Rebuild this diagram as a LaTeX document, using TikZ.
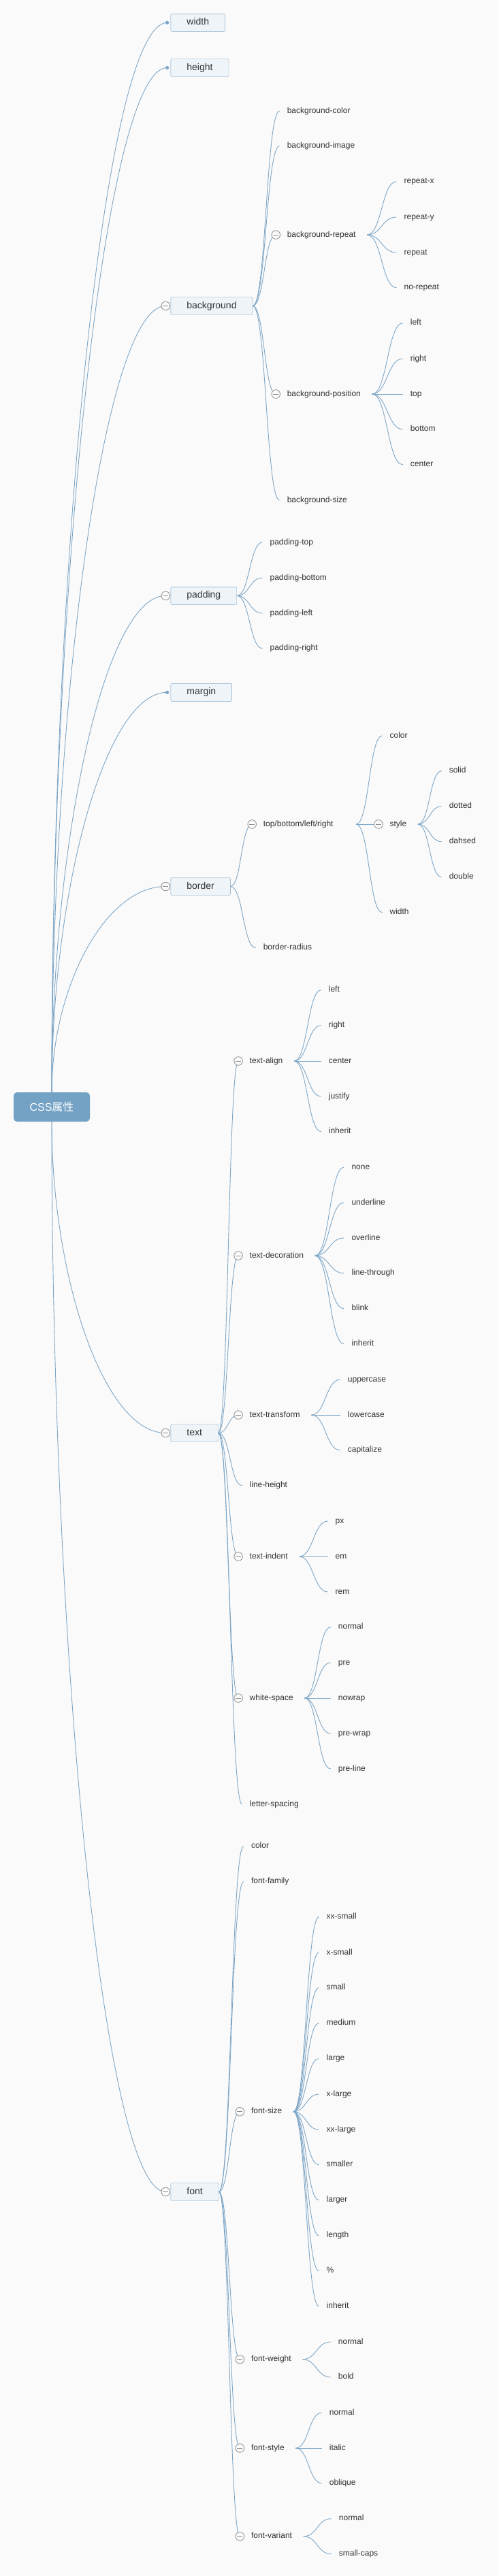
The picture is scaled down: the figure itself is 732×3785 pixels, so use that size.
\documentclass[tikz,border=0pt]{standalone}
\usepackage{fontspec}
\setmainfont{Liberation Sans}
\newfontfamily\cjk{Noto Sans CJK SC}
\usepackage{tikz}
\usetikzlibrary{calc}
\definecolor{bggray}{HTML}{FAFAFA}
\definecolor{linkblue}{HTML}{7EA6C6}
\definecolor{boxfill}{HTML}{EEF4F8}
\definecolor{boxline}{HTML}{7BA4C6}
\definecolor{rootfill}{HTML}{73A2C4}
\definecolor{foldgray}{HTML}{8E8E8E}
\definecolor{ink}{HTML}{333333}
\tikzstyle{root} = [rectangle, rounded corners=5pt, fill=rootfill, text=white,
    minimum width=112pt, minimum height=43pt, font=\fontsize{16}{18}\selectfont]
\tikzstyle{topic} = [rectangle, draw=boxline, fill=boxfill, rounded corners=2pt, anchor=west,
    minimum height=26pt, inner xsep=23.5pt, inner ysep=0pt, text height=10pt, text depth=3pt,
    text=ink, font=\fontsize{14}{16}\selectfont]
\tikzstyle{leaf} = [anchor=west, inner xsep=11pt, inner ysep=1pt, text height=8.5pt,
    text depth=2.5pt, text=ink, font=\fontsize{12}{14}\selectfont]
\tikzstyle{sub} = [leaf, inner xsep=16.4pt]
\tikzstyle{trunk} = [draw=linkblue, line width=0.9pt,
    to path={let \p1=(\tikztostart), \p2=(\tikztotarget) in
      .. controls (\x1,{(\y1+\y2)/2}) and ({0.54*\x1+0.46*\x2},\y2) .. (\tikztotarget)}]
\tikzstyle{branch} = [draw=linkblue, line width=0.9pt,
    to path={let \p1=(\tikztostart), \p2=(\tikztotarget) in
      .. controls ({(\x1+\x2)/2},\y1) and ({(\x1+\x2)/2},\y2) .. (\tikztotarget)}]
\tikzstyle{fold} = [draw=foldgray, fill=bggray, line width=0.8pt]

\begin{document}
\begin{tikzpicture}[x=1pt, y=-1pt]
		\fill[bggray] (0,0) rectangle (732,3785);

		\node[root] (css) at (76,1626.5) {CSS{\cjk 属性}};

		\node[topic] (width) at (250.7,33.3) {width};
		\node[topic] (height) at (250.7,99.5) {height};
		\node[topic] (background) at (250.7,449.5) {background};
		\node[topic] (padding) at (250.7,875.3) {padding};
		\node[topic] (margin) at (250.7,1017.3) {margin};
		\node[topic] (border) at (250.7,1302.5) {border};
		\node[topic] (txt) at (250.7,2105.5) {text};
		\node[topic] (font) at (250.7,3220.5) {font};

		% background
		\node[leaf] (bgcolor) at (410.6,163) {background-color};
		\node[leaf] (bgimage) at (410.6,214.7) {background-image};
		\node[sub] (bgrepeat) at (405.2,345) {background-repeat};
		\node[sub] (bgposition) at (405.2,579) {background-position};
		\node[leaf] (bgsize) at (410.6,735) {background-size};
		\node[leaf] (repeatx) at (582.4,266.7) {repeat-x};
		\node[leaf] (repeaty) at (582.4,319) {repeat-y};
		\node[leaf] (repeat) at (582.4,371) {repeat};
		\node[leaf] (norepeat) at (582.4,422.7) {no-repeat};
		\node[leaf] (posleft) at (591.7,474.7) {left};
		\node[leaf] (posright) at (591.7,527) {right};
		\node[leaf] (postop) at (591.7,579) {top};
		\node[leaf] (posbottom) at (591.7,630.7) {bottom};
		\node[leaf] (poscenter) at (591.7,682.7) {center};

		% padding
		\node[leaf] (padtop) at (385.4,797) {padding-top};
		\node[leaf] (padbottom) at (385.4,849) {padding-bottom};
		\node[leaf] (padleft) at (385.4,901) {padding-left};
		\node[leaf] (padright) at (385.4,952.7) {padding-right};

		% border
		\node[sub] (sides) at (370.2,1211) {top/bottom/left/right};
		\node[leaf] (radius) at (375.6,1392.7) {border-radius};
		\node[leaf] (bcolor) at (561.4,1081) {color};
		\node[sub] (bstyle) at (556,1211) {style};
		\node[leaf] (bwidth) at (561.4,1340.7) {width};
		\node[leaf] (solid) at (648.6,1132.7) {solid};
		\node[leaf] (dotted) at (648.6,1184.7) {dotted};
		\node[leaf] (dahsed) at (648.6,1236.7) {dahsed};
		\node[leaf] (double) at (648.6,1288.7) {double};

		% text
		\node[sub] (talign) at (350.1,1559) {text-align};
		\node[sub] (tdeco) at (350.1,1845) {text-decoration};
		\node[sub] (ttrans) at (350.1,2079) {text-transform};
		\node[leaf] (lheight) at (355.5,2182.7) {line-height};
		\node[sub] (tindent) at (350.1,2287) {text-indent};
		\node[sub] (wspace) at (350.1,2495) {white-space};
		\node[leaf] (lspacing) at (355.5,2651) {letter-spacing};
		\node[leaf] (alleft) at (471.7,1454.7) {left};
		\node[leaf] (alright) at (471.7,1506.7) {right};
		\node[leaf] (alcenter) at (471.7,1559) {center};
		\node[leaf] (aljustify) at (471.7,1611) {justify};
		\node[leaf] (alinherit) at (471.7,1662.7) {inherit};
		\node[leaf] (denone) at (505.3,1715) {none};
		\node[leaf] (deunder) at (505.3,1767) {underline};
		\node[leaf] (deover) at (505.3,1819) {overline};
		\node[leaf] (dethrough) at (505.3,1870.7) {line-through};
		\node[leaf] (deblink) at (505.3,1922.7) {blink};
		\node[leaf] (deinherit) at (505.3,1974.7) {inherit};
		\node[leaf] (trupper) at (499.7,2027) {uppercase};
		\node[leaf] (trlower) at (499.7,2079) {lowercase};
		\node[leaf] (trcap) at (499.7,2130.7) {capitalize};
		\node[leaf] (inpx) at (481.5,2235) {px};
		\node[leaf] (inem) at (481.5,2287) {em};
		\node[leaf] (inrem) at (481.5,2339) {rem};
		\node[leaf] (wsnormal) at (485.7,2390.7) {normal};
		\node[leaf] (wspre) at (485.7,2443) {pre};
		\node[leaf] (wsnowrap) at (485.7,2495) {nowrap};
		\node[leaf] (wsprewrap) at (485.7,2547) {pre-wrap};
		\node[leaf] (wspreline) at (485.7,2599) {pre-line};

		% font
		\node[leaf] (fcolor) at (357.8,2712.7) {color};
		\node[leaf] (ffamily) at (357.8,2764.7) {font-family};
		\node[sub] (fsize) at (352.4,3102.7) {font-size};
		\node[sub] (fweight) at (352.4,3466.7) {font-weight};
		\node[sub] (fstyle) at (352.4,3597) {font-style};
		\node[sub] (fvariant) at (352.4,3726.7) {font-variant};
		\node[leaf] (szxxs) at (468.5,2816.7) {xx-small};
		\node[leaf] (szxs) at (468.5,2869) {x-small};
		\node[leaf] (szs) at (468.5,2920.7) {small};
		\node[leaf] (szm) at (468.5,2972.7) {medium};
		\node[leaf] (szl) at (468.5,3024.7) {large};
		\node[leaf] (szxl) at (468.5,3077) {x-large};
		\node[leaf] (szxxl) at (468.5,3129) {xx-large};
		\node[leaf] (szsmaller) at (468.5,3180.7) {smaller};
		\node[leaf] (szlarger) at (468.5,3232.7) {larger};
		\node[leaf] (szlength) at (468.5,3284.7) {length};
		\node[leaf] (szpct) at (468.5,3336.7) {\%};
		\node[leaf] (szinherit) at (468.5,3388.7) {inherit};
		\node[leaf] (wtnormal) at (485.7,3441) {normal};
		\node[leaf] (wtbold) at (485.7,3492.7) {bold};
		\node[leaf] (stnormal) at (472.7,3545) {normal};
		\node[leaf] (stitalic) at (472.7,3597) {italic};
		\node[leaf] (stoblique) at (472.7,3648.7) {oblique};
		\node[leaf] (vanormal) at (486.7,3700.7) {normal};
		\node[leaf] (vacaps) at (486.7,3752.7) {small-caps};

		% root links
		\draw[trunk] (css.north) to ([xshift=-5.1pt]width.west);
		\draw[trunk] (css.north) to ([xshift=-5.1pt]height.west);
		\draw[trunk] (css.north) to ([xshift=-7.4pt]background.west);
		\draw[trunk] (css.north) to ([xshift=-7.4pt]padding.west);
		\draw[trunk] (css.north) to ([xshift=-5.1pt]margin.west);
		\draw[trunk] (css.north) to ([xshift=-7.4pt]border.west);
		\draw[trunk] (css.south) to ([xshift=-7.4pt]txt.west);
		\draw[trunk] (css.south) to ([xshift=-7.4pt]font.west);

		% branch links
		\draw[branch] (background.east) to (bgcolor.west);
		\draw[branch] (background.east) to (bgimage.west);
		\draw[branch] (background.east) to (bgrepeat.west);
		\draw[branch] (background.east) to (bgposition.west);
		\draw[branch] (background.east) to (bgsize.west);
		\draw[branch] (bgrepeat.east) to (repeatx.west);
		\draw[branch] (bgrepeat.east) to (repeaty.west);
		\draw[branch] (bgrepeat.east) to (repeat.west);
		\draw[branch] (bgrepeat.east) to (norepeat.west);
		\draw[branch] (bgposition.east) to (posleft.west);
		\draw[branch] (bgposition.east) to (posright.west);
		\draw[branch] (bgposition.east) to (postop.west);
		\draw[branch] (bgposition.east) to (posbottom.west);
		\draw[branch] (bgposition.east) to (poscenter.west);

		\draw[branch] (padding.east) to (padtop.west);
		\draw[branch] (padding.east) to (padbottom.west);
		\draw[branch] (padding.east) to (padleft.west);
		\draw[branch] (padding.east) to (padright.west);

		\draw[branch] (border.east) to (sides.west);
		\draw[branch] (border.east) to (radius.west);
		\draw[branch] ([xshift=17pt]sides.east) to (bcolor.west);
		\draw[branch] ([xshift=17pt]sides.east) to (bstyle.west);
		\draw[branch] ([xshift=17pt]sides.east) to (bwidth.west);
		\draw[branch] (bstyle.east) to (solid.west);
		\draw[branch] (bstyle.east) to (dotted.west);
		\draw[branch] (bstyle.east) to (dahsed.west);
		\draw[branch] (bstyle.east) to (double.west);

		\draw[branch] (txt.east) to (talign.west);
		\draw[branch] (txt.east) to (tdeco.west);
		\draw[branch] (txt.east) to (ttrans.west);
		\draw[branch] (txt.east) to (lheight.west);
		\draw[branch] (txt.east) to (tindent.west);
		\draw[branch] (txt.east) to (wspace.west);
		\draw[branch] (txt.east) to (lspacing.west);
		\draw[branch] (talign.east) to (alleft.west);
		\draw[branch] (talign.east) to (alright.west);
		\draw[branch] (talign.east) to (alcenter.west);
		\draw[branch] (talign.east) to (aljustify.west);
		\draw[branch] (talign.east) to (alinherit.west);
		\draw[branch] (tdeco.east) to (denone.west);
		\draw[branch] (tdeco.east) to (deunder.west);
		\draw[branch] (tdeco.east) to (deover.west);
		\draw[branch] (tdeco.east) to (dethrough.west);
		\draw[branch] (tdeco.east) to (deblink.west);
		\draw[branch] (tdeco.east) to (deinherit.west);
		\draw[branch] (ttrans.east) to (trupper.west);
		\draw[branch] (ttrans.east) to (trlower.west);
		\draw[branch] (ttrans.east) to (trcap.west);
		\draw[branch] (tindent.east) to (inpx.west);
		\draw[branch] (tindent.east) to (inem.west);
		\draw[branch] (tindent.east) to (inrem.west);
		\draw[branch] (wspace.east) to (wsnormal.west);
		\draw[branch] (wspace.east) to (wspre.west);
		\draw[branch] (wspace.east) to (wsnowrap.west);
		\draw[branch] (wspace.east) to (wsprewrap.west);
		\draw[branch] (wspace.east) to (wspreline.west);

		\draw[branch] (font.east) to (fcolor.west);
		\draw[branch] (font.east) to (ffamily.west);
		\draw[branch] (font.east) to (fsize.west);
		\draw[branch] (font.east) to (fweight.west);
		\draw[branch] (font.east) to (fstyle.west);
		\draw[branch] (font.east) to (fvariant.west);
		\draw[branch] (fsize.east) to (szxxs.west);
		\draw[branch] (fsize.east) to (szxs.west);
		\draw[branch] (fsize.east) to (szs.west);
		\draw[branch] (fsize.east) to (szm.west);
		\draw[branch] (fsize.east) to (szl.west);
		\draw[branch] (fsize.east) to (szxl.west);
		\draw[branch] (fsize.east) to (szxxl.west);
		\draw[branch] (fsize.east) to (szsmaller.west);
		\draw[branch] (fsize.east) to (szlarger.west);
		\draw[branch] (fsize.east) to (szlength.west);
		\draw[branch] (fsize.east) to (szpct.west);
		\draw[branch] (fsize.east) to (szinherit.west);
		\draw[branch] (fweight.east) to (wtnormal.west);
		\draw[branch] (fweight.east) to (wtbold.west);
		\draw[branch] (fstyle.east) to (stnormal.west);
		\draw[branch] (fstyle.east) to (stitalic.west);
		\draw[branch] (fstyle.east) to (stoblique.west);
		\draw[branch] (fvariant.east) to (vanormal.west);
		\draw[branch] (fvariant.east) to (vacaps.west);

		% fold markers and end dots
		\foreach \n in {width,height,margin}
			\fill[linkblue] ([xshift=-5.1pt]\n.west) circle (2.6pt);
		\foreach \n in {background,padding,border,txt,font} {
			\filldraw[fold] ([xshift=-7.4pt]\n.west) circle (6.3pt);
			\draw[fold] ([xshift=-11.4pt]\n.west) -- ([xshift=-3.4pt]\n.west);
		}
		\foreach \n in {bgrepeat,bgposition,sides,bstyle,talign,tdeco,ttrans,tindent,wspace,fsize,fweight,fstyle,fvariant} {
			\filldraw[fold] (\n.west) circle (6.3pt);
			\draw[fold] ([xshift=-4pt]\n.west) -- ([xshift=4pt]\n.west);
		}
\end{tikzpicture}
\end{document}
